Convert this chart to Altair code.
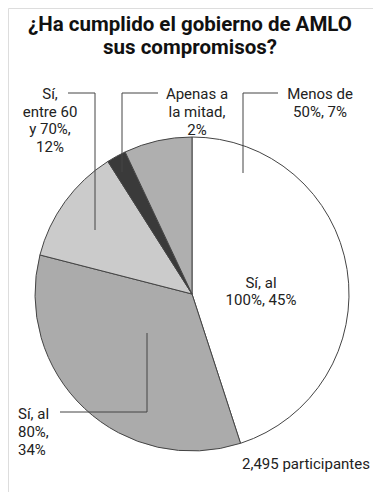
import altair as alt
import pandas as pd

# Data
categories = ["Sí, al 100%", "Sí, al 80%", "Sí, entre 60 y 70%", "Apenas a la mitad", "Menos de 50%"]
values = [45, 34, 12, 2, 7]
colors = ["#ffffff", "#ababab", "#cbcbcb", "#3a3a3a", "#afafaf"]

label_texts = [
    "Sí, al\n100%, 45%",
    "Sí, al\n80%,\n34%",
    "Sí,\nentre 60\ny 70%,\n12%",
    "Apenas a\nla mitad,\n2%",
    "Menos de\n50%, 7%",
]
title_line1 = "¿Ha cumplido el gobierno de AMLO"
title_line2 = "sus compromisos?"
note_text = "2,495 participantes"

pie_df = pd.DataFrame({"cat": categories, "value": values, "order": list(range(len(values)))})

W, H = 365, 484
CX, CY, R = 184, 286, 157

pie = alt.Chart(pie_df).mark_arc(
    radius=R, stroke="#444444", strokeWidth=1
).encode(
    theta=alt.Theta("value:Q", stack=True),
    order=alt.Order("order:Q"),
    color=alt.Color("cat:N", scale=alt.Scale(domain=categories, range=colors), legend=None),
    x=alt.value(CX),
    y=alt.value(CY),
)

# annotation layout (positions only)
lab_df = pd.DataFrame({
    "text": label_texts,
    "x": [253, 10, 42, 189, 312],
    "y": [268, 399, 79, 79, 79],
    "align": ["center", "left", "center", "center", "center"],
})

def label_layer(i, lh):
    row = lab_df.iloc[[i]]
    return alt.Chart(row).mark_text(
        lineBreak="\n", align=row["align"].iloc[0], baseline="top",
        font="Roboto", fontSize=15, lineHeight=lh, color="#222222"
    ).encode(
        x=alt.X("x:Q", scale=None), y=alt.Y("y:Q", scale=None), text="text:N"
    )

labels = [label_layer(0, 17), label_layer(1, 18), label_layer(2, 17.5), label_layer(3, 18), label_layer(4, 18)]

seg_df = pd.DataFrame({
    "x": [60, 87, 114, 114, 235, 235, 52, 139],
    "y": [85, 85, 85, 85, 85, 85, 404, 404],
    "x2": [87, 87, 150, 114, 270, 235, 139, 139],
    "y2": [85, 222, 85, 164, 85, 165, 404, 325],
})
leaders = alt.Chart(seg_df).mark_rule(color="#444444", strokeWidth=1).encode(
    x=alt.X("x:Q", scale=None), y=alt.Y("y:Q", scale=None),
    x2="x2:Q", y2="y2:Q",
)

def title_text(t, y):
    return alt.Chart(pd.DataFrame({"t": [t]})).mark_text(
        align="center", baseline="alphabetic",
        font="Roboto", fontSize=20.5, fontWeight="bold", color="#111111"
    ).encode(x=alt.value(182), y=alt.value(y), text="t:N")

title1 = title_text(title_line1, 23)
title2 = title_text(title_line2, 46)

note = alt.Chart(pd.DataFrame({"t": [note_text]})).mark_text(
    align="left", baseline="top", font="Roboto", fontSize=15, color="#222222"
).encode(x=alt.value(234), y=alt.value(449), text="t:N")

chart = alt.layer(pie, leaders, *labels, title1, title2, note).properties(
    width=W, height=H, autosize=alt.AutoSizeParams(type="none"), padding=0
).configure_view(stroke=None).configure(background="white")

chart.save("out.html", embed_options={"renderer": "svg", "actions": False})
